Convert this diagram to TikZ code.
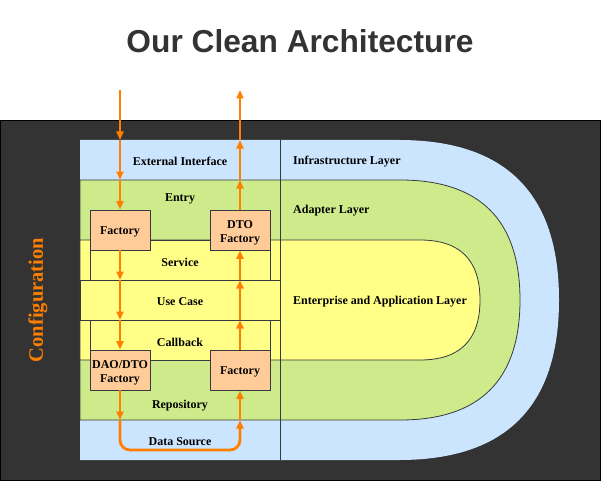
\documentclass[tikz,border=0pt]{standalone}
\usepackage{fontspec}
\setmainfont{Liberation Serif}
\newfontfamily\titlefont{Liberation Sans}
\usetikzlibrary{arrows.meta}
\definecolor{bgdark}{HTML}{333333}
\definecolor{lblue}{HTML}{CCE5FF}
\definecolor{lgreen}{HTML}{CDEB8B}
\definecolor{lyellow}{HTML}{FFFF88}
\definecolor{lorange}{HTML}{FFCC99}
\definecolor{edge}{HTML}{36393D}
\definecolor{flow}{HTML}{FF8000}
\tikzset{
  lbl/.style={font=\fontsize{12}{13}\selectfont\bfseries, text=black, inner sep=0pt},
  rlbl/.style={lbl, anchor=west},
  fbox/.style={draw=edge, fill=lorange, line width=0.8pt, minimum width=60pt, minimum height=40pt, inner sep=0pt},
  ftext/.style={inner sep=0pt, align=center, text=black, font=\fontsize{12}{14}\selectfont\bfseries},
  layerbox/.style={draw=edge, fill=lyellow, line width=0.8pt},
  flowline/.style={draw=flow, line width=2.8pt, -{Triangle[length=8.5pt,width=7pt]}}
}
\begin{document}
\begin{tikzpicture}[x=1pt,y=-1pt]
\useasboundingbox (0,0) rectangle (601,481);
% title
\node[font=\titlefont\fontsize{31.7}{36}\selectfont\bfseries, text=bgdark] (title) at (300,41) {Our Clean Architecture};
% dark background
\draw[fill=bgdark, draw=black, line width=1pt] (0.5,120.5) rectangle (600.5,480.5);
% layers
\fill[lblue] (80,140) -- (399,140) .. controls (505.67,140) and (559,193.33) .. (559,300) .. controls (559,406.67) and (505.67,460) .. (399,460) -- (80,460) -- cycle;
\draw[fill=lgreen, draw=edge, line width=0.8pt] (80,180) -- (400,180) .. controls (480,180) and (520,220) .. (520,300) .. controls (520,380) and (480,420) .. (400,420) -- (80,420) -- cycle;
\draw[fill=lyellow, draw=edge, line width=0.8pt] (80,240) -- (420,240) .. controls (460,240) and (480,260) .. (480,300) .. controls (480,340) and (460,360) .. (420,360) -- (80,360) -- cycle;
% left column boxes
\draw[layerbox] (90,240) rectangle (270,280);
\draw[layerbox] (80,280) rectangle (280,320);
\draw[layerbox] (90,320) rectangle (270,360);
\draw[draw=edge, line width=0.8pt] (280,140) -- (280,460);
% left labels
\node[lbl] (ext) at (180,161.5) {External Interface};
\node[lbl] (entry) at (180,198.5) {Entry};
\node[lbl] (service) at (180,262) {Service};
\node[lbl] (usecase) at (180,301.5) {Use Case};
\node[lbl] (callback) at (180,342) {Callback};
\node[lbl] (repo) at (180,406) {Repository};
\node[lbl] (datasrc) at (180,442) {Data Source};
% right labels
\node[rlbl] (infra) at (293,162) {Infrastructure Layer};
\node[rlbl] (adapter) at (293,211) {Adapter Layer};
\node[rlbl] (enterprise) at (293,302) {Enterprise and Application Layer};
% configuration
\node[font=\fontsize{20.5}{22}\selectfont\bfseries, text=flow, rotate=90] (config) at (38,300) {Configuration};
% factory boxes
\node[fbox] (fac1) at (120,230) {};
\node[fbox] (dto) at (240,230) {};
\node[fbox] (dao) at (120,370) {};
\node[fbox] (fac2) at (240,370) {};
\node[ftext] (fac1t) at (120,232) {Factory};
\node[ftext] (dtot) at (240,232.5) {DTO\\Factory};
\node[ftext] (daot) at (120,372.5) {DAO/DTO\\Factory};
\node[ftext] (fac2t) at (240,372) {Factory};
% flow coordinates
\coordinate (inTop) at (120,90);
\coordinate (inA) at (120,140);
\coordinate (inB) at (120,180);
\coordinate (inC) at (120,280);
\coordinate (inD) at (120,320);
\coordinate (inE) at (120,420);
\coordinate (turnL) at (120,450);
\coordinate (turnR) at (240,450);
\coordinate (upE) at (240,420);
\coordinate (upD) at (240,320);
\coordinate (upC) at (240,280);
\coordinate (upB) at (240,180);
\coordinate (upA) at (240,140);
\coordinate (outTop) at (240,90);
% downward flow
\draw[flowline] (inTop) -- (inA);
\draw[flowline] (inA) -- (inB);
\draw[flowline] (inB) -- (fac1.north);
\draw[flowline] (fac1.south) -- (inC);
\draw[flowline] (inC) -- (inD);
\draw[flowline] (inD) -- (dao.north);
\draw[flowline] (dao.south) -- (inE);
\draw[flowline, rounded corners=10pt] (inE) -- (turnL) -- (turnR) -- (upE);
% upward flow
\draw[flowline] (upE) -- (fac2.south);
\draw[flowline] (fac2.north) -- (upD);
\draw[flowline] (upD) -- (upC);
\draw[flowline] (upC) -- (dto.south);
\draw[flowline] (dto.north) -- (upB);
\draw[flowline] (upB) -- (upA);
\draw[flowline] (upA) -- (outTop);
\end{tikzpicture}
\end{document}
